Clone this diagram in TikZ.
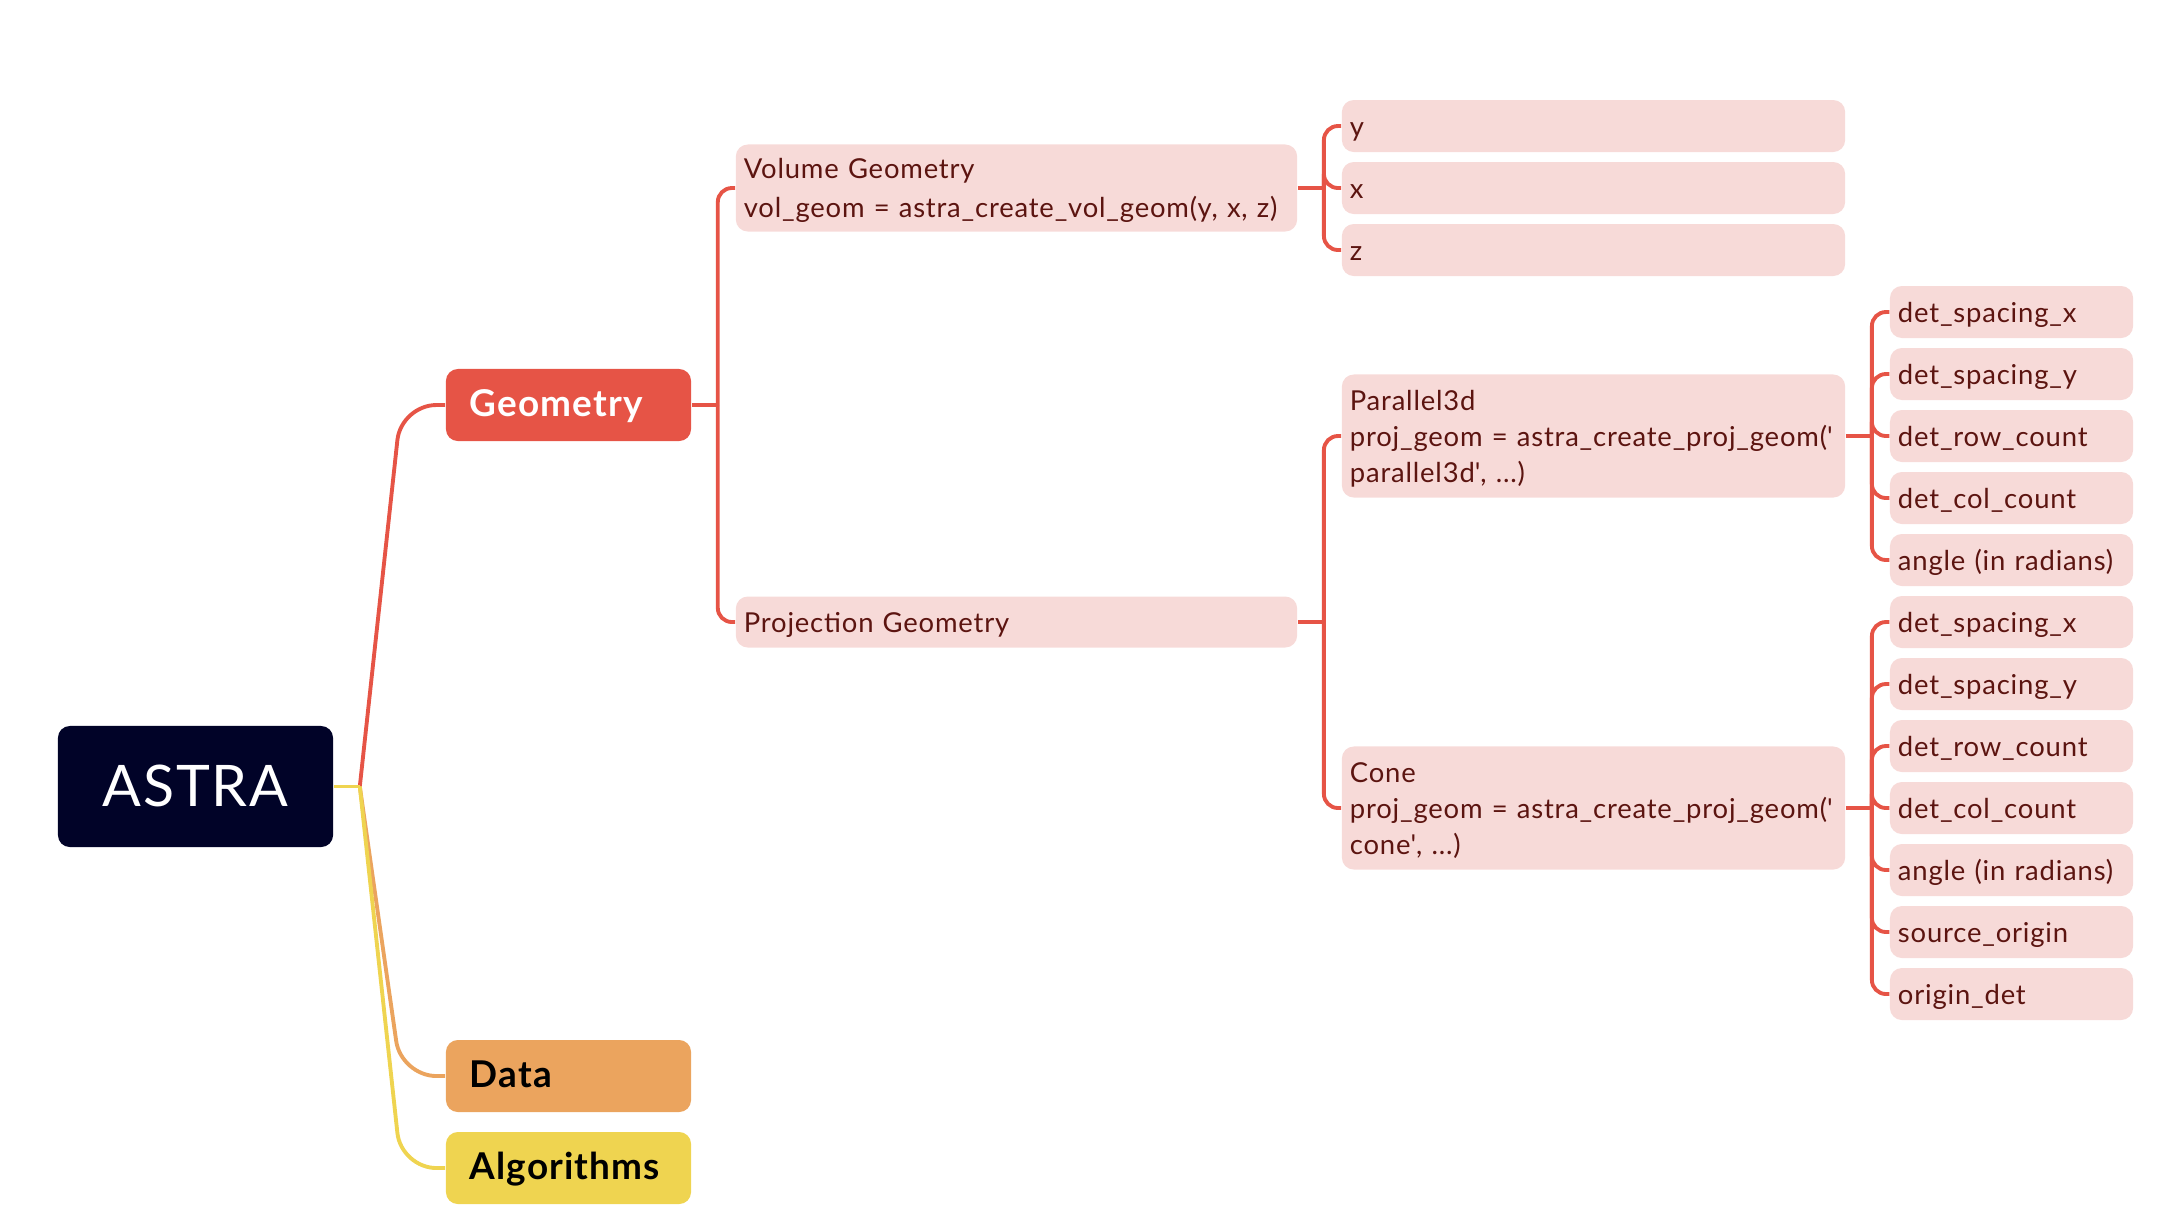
\documentclass[tikz,border=0pt]{standalone}
\usepackage{fontspec}
\setmainfont{Lato}[LetterSpace=3]

\definecolor{astranavy}{RGB}{1,3,40}
\definecolor{mmred}{RGB}{230,84,70}
\definecolor{mmorange}{RGB}{235,164,94}
\definecolor{mmyellow}{RGB}{239,212,80}
\definecolor{mmpink}{RGB}{247,218,216}
\definecolor{mmtext}{RGB}{92,20,16}

\newcommand{\mmstrut}{\rule[-2.3pt]{0pt}{10.3pt}}

\tikzset{
  rootbox/.style={fill=astranavy, text=white, rounded corners=3.4pt, inner sep=0pt,
    minimum width=2.75cm, minimum height=1.21cm, align=center,
    font=\fontsize{16.3}{18}\selectfont, text height=12.4pt, text depth=1pt},
  topicbox/.style={rounded corners=3.4pt, inner xsep=0.24cm, inner ysep=0pt,
    text width=1.97cm, minimum height=0.72cm, align=left,
    font=\fontsize{10.5}{12}\selectfont\bfseries, text height=7.8pt, text depth=1pt},
  pinkbox/.style={fill=mmpink, text=mmtext, rounded corners=3.4pt, inner xsep=0.08cm,
    inner ysep=0pt, align=left, font=\fontsize{7.8}{10.24}\selectfont,
    execute at begin node=\mmstrut, execute at end node=\mmstrut},
  leafbox/.style={pinkbox, text width=2.27cm, minimum height=0.52cm},
  redline/.style={draw=mmred, line width=1.1pt, rounded corners=4pt},
}

\begin{document}
\begin{tikzpicture}[x=0.01cm,y=-0.01cm]
\useasboundingbox (0,0) rectangle (2182,1226);

\node[rootbox] (astra) at (195.5,786.5) {ASTRA};
\node[topicbox, fill=mmred, text=white] (geo) at (568.5,405) {Geometry};
\node[topicbox, fill=mmorange, text=black] (data) at (568.5,1076) {Data};
\node[topicbox, fill=mmyellow, text=black] (algo) at (568.5,1168) {Algorithms};

\node[pinkbox, text width=5.45cm, minimum height=0.87cm] (vol) at (1016.5,188)
  {Volume Geometry\\vol\_geom~=~astra\_create\_vol\_geom(y,~x,~z)};
\node[pinkbox, text width=5.45cm, minimum height=0.51cm] (proj) at (1016.5,622)
  {Projection Geometry};

\node[pinkbox, text width=4.87cm, minimum height=0.52cm] (vy) at (1593.5,126) {y};
\node[pinkbox, text width=4.87cm, minimum height=0.52cm] (vx) at (1593.5,188) {x};
\node[pinkbox, text width=4.87cm, minimum height=0.52cm] (vz) at (1593.5,250) {z};

\node[pinkbox, text width=4.87cm, minimum height=1.23cm] (par) at (1593.5,436)
  {Parallel3d\\proj\_geom~=~astra\_create\_proj\_geom(\textquotesingle\\parallel3d\textquotesingle, ...)};
\node[pinkbox, text width=4.87cm, minimum height=1.23cm] (cone) at (1593.5,808)
  {Cone\\proj\_geom~=~astra\_create\_proj\_geom(\textquotesingle\\cone\textquotesingle, ...)};

%parallel3d parameters
\node[leafbox] (pdsx) at (2011.5,312) {det\_spacing\_x};
\node[leafbox] (pdsy) at (2011.5,374) {det\_spacing\_y};
\node[leafbox] (pdrc) at (2011.5,436) {det\_row\_count};
\node[leafbox] (pdcc) at (2011.5,498) {det\_col\_count};
\node[leafbox] (pang) at (2011.5,560) {angle (in radians)};

%cone parameters
\node[leafbox] (cdsx) at (2011.5,622) {det\_spacing\_x};
\node[leafbox] (cdsy) at (2011.5,684) {det\_spacing\_y};
\node[leafbox] (cdrc) at (2011.5,746) {det\_row\_count};
\node[leafbox] (cdcc) at (2011.5,808) {det\_col\_count};
\node[leafbox] (cang) at (2011.5,870) {angle (in radians)};
\node[leafbox] (csrc) at (2011.5,932) {source\_origin};
\node[leafbox] (codt) at (2011.5,994) {origin\_det};

\coordinate (rs) at ([xshift=0.26cm]astra.east);
\coordinate (gb) at ([xshift=0.26cm]geo.east);
\coordinate (vb) at ([xshift=0.26cm]vol.east);
\coordinate (jb) at ([xshift=0.26cm]proj.east);
\coordinate (pb) at ([xshift=0.26cm]par.east);
\coordinate (cb) at ([xshift=0.26cm]cone.east);

%root branches
\draw[draw=mmred, line width=1.1pt, rounded corners=10pt] (rs) -- ([xshift=-0.44cm]geo.west) -- (geo.west);
\draw[draw=mmorange, line width=1.1pt, rounded corners=10pt] (rs) -- ([xshift=-0.44cm]data.west) -- (data.west);
\draw[draw=mmyellow, line width=1.1pt, rounded corners=10pt] (rs) -- ([xshift=-0.44cm]algo.west) -- (algo.west);
\draw[draw=mmyellow, line width=1.1pt] (astra.east) -- (rs);

%geometry
\draw[redline] (geo.east) -- (gb);
\draw[redline] (gb) |- (vol.west);
\draw[redline] (gb) |- (proj.west);

\draw[redline] (vol.east) -- (vb);
\draw[redline] (vb) |- (vy.west);
\draw[redline] (vb) |- (vx.west);
\draw[redline] (vb) |- (vz.west);

\draw[redline] (proj.east) -- (jb);
\draw[redline] (jb) |- (par.west);
\draw[redline] (jb) |- (cone.west);

\draw[redline] (par.east) -- (pb);
\draw[redline] (pb) |- (pdsx.west);
\draw[redline] (pb) |- (pdsy.west);
\draw[redline] (pb) |- (pdrc.west);
\draw[redline] (pb) |- (pdcc.west);
\draw[redline] (pb) |- (pang.west);

\draw[redline] (cone.east) -- (cb);
\draw[redline] (cb) |- (cdsx.west);
\draw[redline] (cb) |- (cdsy.west);
\draw[redline] (cb) |- (cdrc.west);
\draw[redline] (cb) |- (cdcc.west);
\draw[redline] (cb) |- (cang.west);
\draw[redline] (cb) |- (csrc.west);
\draw[redline] (cb) |- (codt.west);
\end{tikzpicture}
\end{document}
